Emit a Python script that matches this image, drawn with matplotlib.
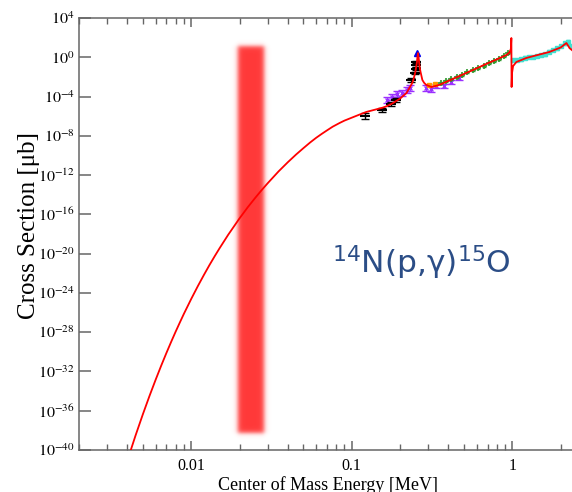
import numpy as np
import matplotlib
matplotlib.use("Agg")
import matplotlib.pyplot as plt
from matplotlib.ticker import FixedLocator, NullLocator, LogLocator, FuncFormatter

plt.rcParams["font.family"] = "Liberation Serif"
plt.rcParams["mathtext.fontset"] = "stix"

# --- Data: centre-of-mass energy [MeV], log10 of cross section [ub] ---
curve_E = [0.0042, 0.0045, 0.005, 0.0055, 0.006, 0.0065, 0.007, 0.0075,
           0.008, 0.0085, 0.009, 0.0095, 0.010, 0.011, 0.012, 0.013, 0.014,
           0.015, 0.017, 0.020, 0.0225, 0.025, 0.0275, 0.030, 0.035, 0.040,
           0.045, 0.050, 0.055, 0.060, 0.065, 0.070, 0.076, 0.084, 0.090,
           0.100, 0.110, 0.123, 0.140, 0.155, 0.165, 0.179, 0.200, 0.219,
           0.238, 0.243, 0.248, 0.251, 0.2545, 0.2565, 0.2585, 0.2605,
           0.2625, 0.265, 0.268, 0.275, 0.282, 0.290, 0.313, 0.350, 0.400,
           0.468, 0.600, 0.700, 0.800, 0.918, 0.960, 0.978, 0.9855, 0.9885,
           0.995, 1.010, 1.059, 1.222, 1.450, 1.700, 2.000, 2.170, 2.270,
           2.400]
curve_logS = [-40.02, -38.52, -36.35, -34.48, -32.85, -31.41, -30.13, -28.98,
              -27.94, -27.00, -26.13, -25.35, -24.61, -23.30, -22.16, -21.15, -20.26,
              -19.46, -18.07, -16.40, -15.27, -14.33, -13.51, -12.81, -11.62, -10.68,
              -9.90, -9.25, -8.68, -8.20, -7.80, -7.45, -7.07, -6.69, -6.45,
              -6.15, -5.88, -5.57, -5.33, -5.14, -4.98, -4.70, -4.20, -3.64,
              -2.62, -2.15, -1.6, -1.1, -0.5, 0.1, 0.43, 0.0,
              -0.5, -1.1, -1.5, -2.31, -2.6, -2.8, -3.03, -2.82, -2.4,
              -1.91, -1.12, -0.62, -0.21, 0.23, 0.5, 0.85, 1.96, -3.03,
              -1.6, -0.9, -0.48, -0.07, 0.25, 0.54, 1.0, 1.45, 0.94,
              0.6]

black_E = [0.120, 0.155, 0.176, 0.189, 0.235, 0.249, 0.252, 0.252, 0.252]
black_logS = [-5.98, -5.37, -4.76, -4.35, -2.32, -1.60, -1.19, -0.79, -0.48]
black_err = [0.35, 0.25, 0.25, 0.25, 0.2, 0.15, 0.15, 0.15, 0.15]

blue_E = [0.2559]
blue_logS = [0.43]

purple_E = [0.1664, 0.1788, 0.1920, 0.2063, 0.2217, 0.2314,
            0.2911, 0.3129, 0.3361, 0.3770, 0.4169, 0.4675]
purple_logS = [-4.35, -4.05, -3.74, -3.64, -3.33, -3.13,
               -3.13, -3.23, -2.93, -2.93, -2.52, -2.11]
purple_err = [0.3, 0.3, 0.3, 0.3, 0.3, 0.3, 0.3, 0.3, 0.25, 0.25, 0.25, 0.25]

orange_E = [0.304, 0.331]
orange_logS = [-2.82, -2.72]

green_E = [0.3610, 0.3879, 0.4169, 0.4543, 0.4881, 0.5245, 0.5715,
           0.6141, 0.6690, 0.7189, 0.7725, 0.8299, 0.8917, 0.9443]
green_logS = [-2.62, -2.42, -2.21, -2.01, -1.81, -1.50, -1.30,
              -1.09, -0.89, -0.58, -0.38, -0.18, 0.13, 0.44]

cyan_E = [1.0144, 1.0745, 1.138, 1.205, 1.276, 1.351, 1.432, 1.516,
          1.606, 1.700, 1.801, 1.907, 2.020, 2.139, 2.233, 2.332]
cyan_logS = [-0.28, -0.28, -0.18, -0.07, 0.03, 0.03, 0.13, 0.23,
             0.33, 0.54, 0.74, 0.94, 1.15, 1.45, 1.56, 1.15]

# Gamow window
band_E = [0.0195, 0.0285]
band_S = [10 ** -38.3, 10 ** 1.15]


def sig(vals):
    return 10.0 ** np.asarray(vals)


def logerr(vals, dec):
    s = sig(vals)
    d = np.asarray(dec)
    return [s - s * 10.0 ** -d, s * 10.0 ** d - s]


XLIM = (0.002, 3)
YLIM = (1e-40, 1e4)

fig = plt.figure(figsize=(5.72, 4.92), dpi=100)
ax = fig.add_axes([79 / 572, 42 / 492, 510 / 572, 432 / 492])
ax.set_xscale("log")
ax.set_yscale("log")
ax.set_xlim(*XLIM)
ax.set_ylim(*YLIM)

# blurred band, drawn as an image in axes coordinates
to_axes = ax.transAxes.inverted()
(x0, y0), (x1, y1) = to_axes.transform(
    ax.transData.transform([(band_E[0], band_S[0]), (band_E[1], band_S[1])]))
pad_x, pad_y = 0.025, 0.02
nx, ny = 120, 400
gx = np.linspace(x0 - pad_x, x1 + pad_x, nx)
gy = np.linspace(y0 - pad_y, y1 + pad_y, ny)
sx, sy = 0.0055, 0.006
ax_prof = 0.5 * (np.tanh((gx - x0) / sx) - np.tanh((gx - x1) / sx))
ay_prof = 0.5 * (np.tanh((gy - y0) / sy) - np.tanh((gy - y1) / sy))
rgba = np.zeros((ny, nx, 4))
rgba[..., 0] = 1.0
rgba[..., 1] = 0.22
rgba[..., 2] = 0.22
rgba[..., 3] = np.outer(ay_prof, ax_prof)
ax.imshow(rgba, extent=[gx[0], gx[-1], gy[0], gy[-1]], origin="lower",
          transform=ax.transAxes, aspect="auto", interpolation="bilinear",
          zorder=1)
ax.set_xlim(*XLIM)
ax.set_ylim(*YLIM)

# measured data sets
eb = dict(fmt="none", capsize=3, elinewidth=1.0, capthick=1.0, zorder=3)
ax.errorbar(purple_E, sig(purple_logS), yerr=logerr(purple_logS, purple_err),
            ecolor="#9b30ff", **eb)
ax.plot(purple_E, sig(purple_logS), "x", color="#9b30ff", ms=3, mew=1.0, zorder=3)
ax.errorbar(black_E, sig(black_logS), yerr=logerr(black_logS, black_err),
            ecolor="black", **eb)
ax.plot(black_E, sig(black_logS), "_", color="black", ms=7, mew=1.5, zorder=3)
ax.plot(orange_E, sig(orange_logS), "s", color="#ff9900", ms=3, zorder=3)
ax.errorbar(green_E, sig(green_logS), yerr=logerr(green_logS, [0.12] * len(green_E)),
            ecolor="#2e9a2e", fmt="none", capsize=1.5, elinewidth=1.0, zorder=3)
ax.plot(green_E, sig(green_logS), "+", color="#2e9a2e", ms=4, mew=1.2, zorder=3)
ax.errorbar(cyan_E, sig(cyan_logS), yerr=logerr(cyan_logS, [0.15] * len(cyan_E)),
            ecolor="#40e0d0", fmt="none", capsize=1.5, elinewidth=1.5, zorder=3)
ax.plot(cyan_E, sig(cyan_logS), "s", color="#40e0d0", ms=3, zorder=3)
ax.plot(blue_E, sig(blue_logS), "^", color="#0000ee", ms=5, zorder=3)

# fit curve
ax.plot(curve_E, sig(curve_logS), color="red", lw=1.3, zorder=4)

# axes styling
ax.yaxis.set_major_locator(FixedLocator([10.0 ** k for k in range(-40, 5, 4)]))
ax.yaxis.set_minor_locator(NullLocator())
ax.yaxis.set_major_formatter(FuncFormatter(lambda v, p: r"$10^{%d}$" % round(np.log10(v))))
ax.xaxis.set_major_locator(LogLocator(base=10))
ax.xaxis.set_minor_locator(LogLocator(base=10, subs=np.arange(2, 10)))
ax.xaxis.set_major_formatter(FuncFormatter(lambda v, p: "%g" % v))

for s in ax.spines.values():
    s.set_color("#666666")
    s.set_linewidth(1.1)
ax.tick_params(which="both", direction="in", top=True, right=True,
               color="#666666", labelsize=11.5)
ax.tick_params(axis="y", which="major", length=8.5, width=1.1, pad=3)
ax.tick_params(axis="x", which="major", length=6.5, width=1.1, pad=6)
ax.tick_params(axis="x", which="minor", length=4, width=1.0)

ax.set_ylabel("Cross Section [μb]", fontsize=18)
ax.yaxis.set_label_coords(-0.077, 0.52)
ax.set_xlabel("Center of Mass Energy [MeV]", fontsize=13)
ax.xaxis.set_label_coords(0.488, -0.06)

fig.text(332 / 572, 1 - 273 / 492, r"$^{14}$N(p,γ)$^{15}$O",
         family="DejaVu Sans", math_fontfamily="dejavusans", fontsize=22.5,
         color="#2b4d86", ha="left", va="baseline")

fig.savefig("out.png", dpi=100)
